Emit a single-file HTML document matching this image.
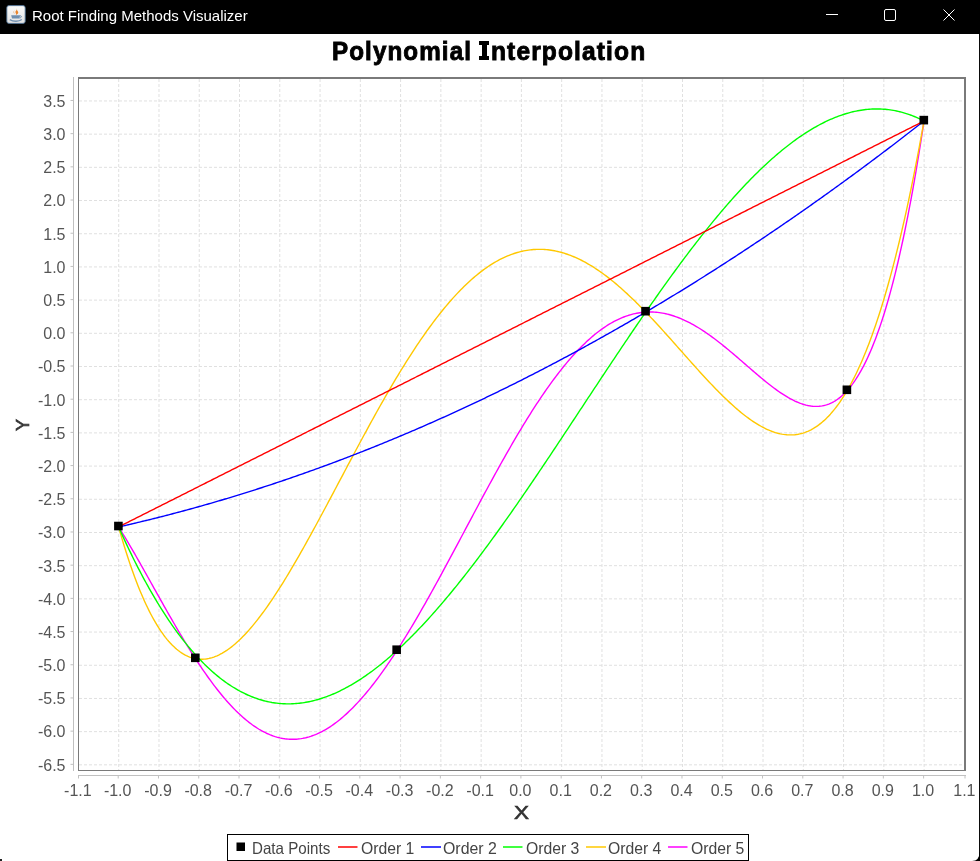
<!DOCTYPE html>
<html><head><meta charset="utf-8">
<style>
html,body{margin:0;padding:0;width:980px;height:861px;overflow:hidden;background:#fff;}
body{position:relative;font-family:"Liberation Sans",sans-serif;}
#txt{position:absolute;left:0;top:0;width:980px;height:861px;will-change:transform;}
#tb{position:absolute;left:0;top:0;width:980px;height:34px;background:#000;}
#tt{position:absolute;left:32px;top:8px;color:#fff;font-size:15px;line-height:15px;white-space:nowrap;}
#rb{position:absolute;left:979px;top:34px;width:1px;height:827px;background:#0a0a0a;}
.tw{position:absolute;top:38px;font-weight:bold;font-size:26.5px;line-height:26.5px;color:#000;white-space:nowrap;transform-origin:0 0;-webkit-text-stroke:0.9px #000;letter-spacing:1.2px;}
.yl{position:absolute;left:5px;width:60.5px;text-align:right;font-size:16px;line-height:16px;color:#555;white-space:nowrap;}
.xl{position:absolute;top:783px;width:60px;text-align:center;font-size:16px;line-height:16px;color:#555;white-space:nowrap;}
#xlab{position:absolute;left:514px;top:804px;font-size:18px;line-height:18px;color:#333;transform:scaleX(1.25);transform-origin:0 0;-webkit-text-stroke:0.6px #333;}
#ylab{position:absolute;left:14px;top:416px;width:18px;height:18px;text-align:center;font-size:18px;line-height:18px;color:#333;transform:rotate(-90deg);-webkit-text-stroke:0.6px #333;}
#legend{position:absolute;left:227px;top:834px;width:520px;height:25px;border:1px solid #000;}
.lt{position:absolute;top:840px;font-size:16.5px;line-height:16.5px;color:#444;white-space:nowrap;transform-origin:0 0;}
svg{position:absolute;left:0;top:0;}
</style></head><body>
<div id="tb"></div>
<div id="rb"></div>
<svg width="980" height="861" viewBox="0 0 980 861"><path d="M0 852 Q0 861 9 861 L0 861 Z" fill="#000" opacity="0"/><path d="M972 861 Q979.5 861 979.5 852 L980 852 L980 861 Z" fill="#000"/><rect x="0" y="859" width="2" height="2" fill="#222"/></svg>
<svg width="30" height="34" viewBox="0 0 30 34">
 <defs><linearGradient id="ig" x1="0" y1="0" x2="0" y2="1"><stop offset="0" stop-color="#fafafa"/><stop offset="1" stop-color="#e2e2e2"/></linearGradient></defs>
 <rect x="6.8" y="5.6" width="18.4" height="17.8" rx="2.2" fill="url(#ig)" stroke="#4d6f93" stroke-width="0.9"/>
 <path d="M16.2 8.2 C18.2 9.6 14.6 11 15.6 12.8 C16 13.6 16.3 14.2 15.8 15 C18.8 13.8 18.6 12 17.6 11 C17 10.2 17.2 9.2 16.2 8.2 Z" fill="#e8842c"/>
 <path d="M14.8 10.2 C13.2 11.4 14.2 13 14.8 14.2 C13.6 13 12.8 11.6 14.8 10.2 Z" fill="#e8842c"/>
 <path d="M11.2 15.3 L20.2 15.3 L19.4 18.4 L12 18.4 Z" fill="#6f8fb0"/>
 <path d="M20 15.8 C22.2 15.8 21.8 17.6 19.6 18" fill="none" stroke="#6f8fb0" stroke-width="1"/>
 <path d="M9.8 19.6 C13 21.8 19 21.8 21.8 19.6" fill="none" stroke="#6f8fb0" stroke-width="1.3"/>
</svg>
<svg width="980" height="34" viewBox="0 0 980 34">
 <line x1="826" y1="14.5" x2="838" y2="14.5" stroke="#fff" stroke-width="1"/>
 <rect x="884.5" y="9.5" width="11" height="11" rx="1.5" fill="none" stroke="#fff" stroke-width="1"/>
 <path d="M943.5 9.5 L954.5 20.5 M954.5 9.5 L943.5 20.5" stroke="#fff" stroke-width="1"/>
</svg>
<div id="txt">
<div id="tt">Root Finding Methods Visualizer</div>
<div class="tw" style="left:332px;transform:scaleX(0.913)">Polynomial</div>
<div class="tw" style="left:491px;transform:scaleX(0.927)">nterpolation</div>
<svg width="980" height="80" viewBox="0 0 980 80"><path d="M479 41 H489 V45 H487 V56 H489 V60 H479 V56 H482 V45 H479 Z" fill="#000"/></svg>
<svg width="980" height="861" viewBox="0 0 980 861">
<line x1="118.70" y1="79" x2="118.70" y2="770" stroke="#e0e0e0" stroke-width="1" stroke-dasharray="3 2"/>
<line x1="158.97" y1="79" x2="158.97" y2="770" stroke="#e0e0e0" stroke-width="1" stroke-dasharray="3 2"/>
<line x1="199.24" y1="79" x2="199.24" y2="770" stroke="#e0e0e0" stroke-width="1" stroke-dasharray="3 2"/>
<line x1="239.51" y1="79" x2="239.51" y2="770" stroke="#e0e0e0" stroke-width="1" stroke-dasharray="3 2"/>
<line x1="279.78" y1="79" x2="279.78" y2="770" stroke="#e0e0e0" stroke-width="1" stroke-dasharray="3 2"/>
<line x1="320.05" y1="79" x2="320.05" y2="770" stroke="#e0e0e0" stroke-width="1" stroke-dasharray="3 2"/>
<line x1="360.32" y1="79" x2="360.32" y2="770" stroke="#e0e0e0" stroke-width="1" stroke-dasharray="3 2"/>
<line x1="400.59" y1="79" x2="400.59" y2="770" stroke="#e0e0e0" stroke-width="1" stroke-dasharray="3 2"/>
<line x1="440.86" y1="79" x2="440.86" y2="770" stroke="#e0e0e0" stroke-width="1" stroke-dasharray="3 2"/>
<line x1="481.13" y1="79" x2="481.13" y2="770" stroke="#e0e0e0" stroke-width="1" stroke-dasharray="3 2"/>
<line x1="521.40" y1="79" x2="521.40" y2="770" stroke="#e0e0e0" stroke-width="1" stroke-dasharray="3 2"/>
<line x1="561.67" y1="79" x2="561.67" y2="770" stroke="#e0e0e0" stroke-width="1" stroke-dasharray="3 2"/>
<line x1="601.94" y1="79" x2="601.94" y2="770" stroke="#e0e0e0" stroke-width="1" stroke-dasharray="3 2"/>
<line x1="642.21" y1="79" x2="642.21" y2="770" stroke="#e0e0e0" stroke-width="1" stroke-dasharray="3 2"/>
<line x1="682.48" y1="79" x2="682.48" y2="770" stroke="#e0e0e0" stroke-width="1" stroke-dasharray="3 2"/>
<line x1="722.75" y1="79" x2="722.75" y2="770" stroke="#e0e0e0" stroke-width="1" stroke-dasharray="3 2"/>
<line x1="763.02" y1="79" x2="763.02" y2="770" stroke="#e0e0e0" stroke-width="1" stroke-dasharray="3 2"/>
<line x1="803.29" y1="79" x2="803.29" y2="770" stroke="#e0e0e0" stroke-width="1" stroke-dasharray="3 2"/>
<line x1="843.56" y1="79" x2="843.56" y2="770" stroke="#e0e0e0" stroke-width="1" stroke-dasharray="3 2"/>
<line x1="883.83" y1="79" x2="883.83" y2="770" stroke="#e0e0e0" stroke-width="1" stroke-dasharray="3 2"/>
<line x1="924.10" y1="79" x2="924.10" y2="770" stroke="#e0e0e0" stroke-width="1" stroke-dasharray="3 2"/>
<line x1="79" y1="764.84" x2="964" y2="764.84" stroke="#e0e0e0" stroke-width="1" stroke-dasharray="3 2"/>
<line x1="79" y1="731.64" x2="964" y2="731.64" stroke="#e0e0e0" stroke-width="1" stroke-dasharray="3 2"/>
<line x1="79" y1="698.44" x2="964" y2="698.44" stroke="#e0e0e0" stroke-width="1" stroke-dasharray="3 2"/>
<line x1="79" y1="665.25" x2="964" y2="665.25" stroke="#e0e0e0" stroke-width="1" stroke-dasharray="3 2"/>
<line x1="79" y1="632.06" x2="964" y2="632.06" stroke="#e0e0e0" stroke-width="1" stroke-dasharray="3 2"/>
<line x1="79" y1="598.86" x2="964" y2="598.86" stroke="#e0e0e0" stroke-width="1" stroke-dasharray="3 2"/>
<line x1="79" y1="565.66" x2="964" y2="565.66" stroke="#e0e0e0" stroke-width="1" stroke-dasharray="3 2"/>
<line x1="79" y1="532.47" x2="964" y2="532.47" stroke="#e0e0e0" stroke-width="1" stroke-dasharray="3 2"/>
<line x1="79" y1="499.27" x2="964" y2="499.27" stroke="#e0e0e0" stroke-width="1" stroke-dasharray="3 2"/>
<line x1="79" y1="466.08" x2="964" y2="466.08" stroke="#e0e0e0" stroke-width="1" stroke-dasharray="3 2"/>
<line x1="79" y1="432.88" x2="964" y2="432.88" stroke="#e0e0e0" stroke-width="1" stroke-dasharray="3 2"/>
<line x1="79" y1="399.69" x2="964" y2="399.69" stroke="#e0e0e0" stroke-width="1" stroke-dasharray="3 2"/>
<line x1="79" y1="366.50" x2="964" y2="366.50" stroke="#e0e0e0" stroke-width="1" stroke-dasharray="3 2"/>
<line x1="79" y1="333.30" x2="964" y2="333.30" stroke="#e0e0e0" stroke-width="1" stroke-dasharray="3 2"/>
<line x1="79" y1="300.11" x2="964" y2="300.11" stroke="#e0e0e0" stroke-width="1" stroke-dasharray="3 2"/>
<line x1="79" y1="266.91" x2="964" y2="266.91" stroke="#e0e0e0" stroke-width="1" stroke-dasharray="3 2"/>
<line x1="79" y1="233.72" x2="964" y2="233.72" stroke="#e0e0e0" stroke-width="1" stroke-dasharray="3 2"/>
<line x1="79" y1="200.52" x2="964" y2="200.52" stroke="#e0e0e0" stroke-width="1" stroke-dasharray="3 2"/>
<line x1="79" y1="167.33" x2="964" y2="167.33" stroke="#e0e0e0" stroke-width="1" stroke-dasharray="3 2"/>
<line x1="79" y1="134.13" x2="964" y2="134.13" stroke="#e0e0e0" stroke-width="1" stroke-dasharray="3 2"/>
<line x1="79" y1="100.94" x2="964" y2="100.94" stroke="#e0e0e0" stroke-width="1" stroke-dasharray="3 2"/>
<path d="M118.20,526.33 L119.81,528.91 L121.43,531.53 L123.04,534.17 L124.66,536.85 L126.27,539.54 L127.88,542.26 L129.50,545.00 L131.11,547.77 L132.73,550.55 L134.34,553.34 L135.95,556.15 L137.57,558.98 L139.18,561.82 L140.80,564.67 L142.41,567.53 L144.02,570.39 L145.64,573.27 L147.25,576.15 L148.87,579.03 L150.48,581.92 L152.09,584.80 L153.71,587.69 L155.32,590.58 L156.94,593.46 L158.55,596.34 L160.16,599.22 L161.78,602.08 L163.39,604.94 L165.01,607.80 L166.62,610.64 L168.23,613.47 L169.85,616.29 L171.46,619.10 L173.08,621.89 L174.69,624.67 L176.31,627.43 L177.92,630.18 L179.53,632.91 L181.15,635.61 L182.76,638.30 L184.38,640.97 L185.99,643.62 L187.60,646.24 L189.22,648.84 L190.83,651.41 L192.45,653.96 L194.06,656.48 L195.67,658.98 L197.29,661.45 L198.90,663.89 L200.52,666.30 L202.13,668.68 L203.74,671.03 L205.36,673.35 L206.97,675.64 L208.59,677.89 L210.20,680.11 L211.81,682.30 L213.43,684.45 L215.04,686.57 L216.66,688.65 L218.27,690.69 L219.88,692.70 L221.50,694.67 L223.11,696.60 L224.73,698.50 L226.34,700.35 L227.95,702.17 L229.57,703.94 L231.18,705.68 L232.80,707.37 L234.41,709.02 L236.02,710.63 L237.64,712.20 L239.25,713.73 L240.87,715.21 L242.48,716.65 L244.09,718.05 L245.71,719.41 L247.32,720.72 L248.94,721.98 L250.55,723.20 L252.16,724.38 L253.78,725.51 L255.39,726.59 L257.01,727.63 L258.62,728.63 L260.23,729.58 L261.85,730.48 L263.46,731.33 L265.08,732.14 L266.69,732.91 L268.30,733.62 L269.92,734.29 L271.53,734.91 L273.15,735.49 L274.76,736.02 L276.37,736.50 L277.99,736.93 L279.60,737.32 L281.22,737.66 L282.83,737.95 L284.44,738.20 L286.06,738.39 L287.67,738.55 L289.29,738.65 L290.90,738.70 L292.52,738.71 L294.13,738.68 L295.74,738.59 L297.36,738.46 L298.97,738.28 L300.59,738.05 L302.20,737.78 L303.81,737.46 L305.43,737.10 L307.04,736.69 L308.66,736.23 L310.27,735.73 L311.88,735.18 L313.50,734.59 L315.11,733.95 L316.73,733.26 L318.34,732.53 L319.95,731.76 L321.57,730.94 L323.18,730.08 L324.80,729.17 L326.41,728.22 L328.02,727.23 L329.64,726.19 L331.25,725.11 L332.87,723.99 L334.48,722.83 L336.09,721.62 L337.71,720.37 L339.32,719.08 L340.94,717.75 L342.55,716.38 L344.16,714.97 L345.78,713.52 L347.39,712.03 L349.01,710.50 L350.62,708.93 L352.23,707.33 L353.85,705.68 L355.46,704.00 L357.08,702.28 L358.69,700.52 L360.30,698.73 L361.92,696.90 L363.53,695.04 L365.15,693.14 L366.76,691.20 L368.37,689.24 L369.99,687.23 L371.60,685.20 L373.22,683.13 L374.83,681.03 L376.44,678.90 L378.06,676.74 L379.67,674.54 L381.29,672.32 L382.90,670.06 L384.51,667.78 L386.13,665.46 L387.74,663.12 L389.36,660.75 L390.97,658.36 L392.58,655.93 L394.20,653.48 L395.81,651.01 L397.43,648.51 L399.04,645.98 L400.65,643.43 L402.27,640.86 L403.88,638.27 L405.50,635.65 L407.11,633.01 L408.73,630.35 L410.34,627.66 L411.95,624.96 L413.57,622.24 L415.18,619.50 L416.80,616.74 L418.41,613.96 L420.02,611.17 L421.64,608.36 L423.25,605.53 L424.87,602.69 L426.48,599.83 L428.09,596.96 L429.71,594.07 L431.32,591.17 L432.94,588.26 L434.55,585.34 L436.16,582.40 L437.78,579.46 L439.39,576.50 L441.01,573.53 L442.62,570.56 L444.23,567.58 L445.85,564.59 L447.46,561.59 L449.08,558.59 L450.69,555.58 L452.30,552.56 L453.92,549.54 L455.53,546.52 L457.15,543.49 L458.76,540.46 L460.37,537.43 L461.99,534.40 L463.60,531.36 L465.22,528.33 L466.83,525.29 L468.44,522.26 L470.06,519.23 L471.67,516.20 L473.29,513.17 L474.90,510.14 L476.51,507.12 L478.13,504.11 L479.74,501.10 L481.36,498.09 L482.97,495.09 L484.58,492.10 L486.20,489.11 L487.81,486.14 L489.43,483.17 L491.04,480.21 L492.65,477.26 L494.27,474.32 L495.88,471.40 L497.50,468.48 L499.11,465.58 L500.72,462.68 L502.34,459.81 L503.95,456.94 L505.57,454.09 L507.18,451.26 L508.79,448.44 L510.41,445.63 L512.02,442.85 L513.64,440.08 L515.25,437.33 L516.86,434.59 L518.48,431.88 L520.09,429.18 L521.71,426.50 L523.32,423.85 L524.94,421.21 L526.55,418.60 L528.16,416.01 L529.78,413.44 L531.39,410.89 L533.01,408.37 L534.62,405.87 L536.23,403.39 L537.85,400.94 L539.46,398.52 L541.08,396.12 L542.69,393.74 L544.30,391.40 L545.92,389.08 L547.53,386.78 L549.15,384.52 L550.76,382.28 L552.37,380.07 L553.99,377.90 L555.60,375.75 L557.22,373.63 L558.83,371.54 L560.44,369.48 L562.06,367.45 L563.67,365.46 L565.29,363.49 L566.90,361.56 L568.51,359.66 L570.13,357.80 L571.74,355.96 L573.36,354.16 L574.97,352.40 L576.58,350.67 L578.20,348.97 L579.81,347.31 L581.43,345.68 L583.04,344.09 L584.65,342.53 L586.27,341.01 L587.88,339.53 L589.50,338.08 L591.11,336.67 L592.72,335.30 L594.34,333.96 L595.95,332.66 L597.57,331.39 L599.18,330.17 L600.79,328.98 L602.41,327.83 L604.02,326.72 L605.64,325.65 L607.25,324.61 L608.86,323.62 L610.48,322.66 L612.09,321.74 L613.71,320.86 L615.32,320.02 L616.93,319.21 L618.55,318.45 L620.16,317.73 L621.78,317.04 L623.39,316.40 L625.00,315.79 L626.62,315.22 L628.23,314.69 L629.85,314.20 L631.46,313.75 L633.07,313.34 L634.69,312.97 L636.30,312.64 L637.92,312.34 L639.53,312.09 L641.15,311.87 L642.76,311.69 L644.37,311.55 L645.99,311.45 L647.60,311.39 L649.22,311.36 L650.83,311.38 L652.44,311.43 L654.06,311.52 L655.67,311.64 L657.29,311.80 L658.90,312.00 L660.51,312.24 L662.13,312.51 L663.74,312.82 L665.36,313.16 L666.97,313.54 L668.58,313.95 L670.20,314.40 L671.81,314.88 L673.43,315.40 L675.04,315.95 L676.65,316.53 L678.27,317.15 L679.88,317.80 L681.50,318.47 L683.11,319.19 L684.72,319.93 L686.34,320.70 L687.95,321.50 L689.57,322.34 L691.18,323.20 L692.79,324.08 L694.41,325.00 L696.02,325.95 L697.64,326.92 L699.25,327.91 L700.86,328.93 L702.48,329.98 L704.09,331.05 L705.71,332.14 L707.32,333.26 L708.93,334.40 L710.55,335.56 L712.16,336.74 L713.78,337.93 L715.39,339.15 L717.00,340.39 L718.62,341.64 L720.23,342.91 L721.85,344.19 L723.46,345.49 L725.07,346.81 L726.69,348.13 L728.30,349.47 L729.92,350.82 L731.53,352.18 L733.14,353.54 L734.76,354.92 L736.37,356.30 L737.99,357.69 L739.60,359.08 L741.21,360.48 L742.83,361.88 L744.44,363.28 L746.06,364.68 L747.67,366.08 L749.28,367.48 L750.90,368.87 L752.51,370.27 L754.13,371.65 L755.74,373.03 L757.36,374.40 L758.97,375.76 L760.58,377.11 L762.20,378.45 L763.81,379.77 L765.43,381.08 L767.04,382.38 L768.65,383.65 L770.27,384.91 L771.88,386.14 L773.50,387.36 L775.11,388.55 L776.72,389.71 L778.34,390.85 L779.95,391.96 L781.57,393.04 L783.18,394.09 L784.79,395.11 L786.41,396.09 L788.02,397.04 L789.64,397.94 L791.25,398.81 L792.86,399.64 L794.48,400.42 L796.09,401.15 L797.71,401.84 L799.32,402.49 L800.93,403.08 L802.55,403.61 L804.16,404.10 L805.78,404.52 L807.39,404.89 L809.00,405.20 L810.62,405.45 L812.23,405.63 L813.85,405.74 L815.46,405.79 L817.07,405.77 L818.69,405.67 L820.30,405.50 L821.92,405.25 L823.53,404.92 L825.14,404.51 L826.76,404.02 L828.37,403.44 L829.99,402.77 L831.60,402.01 L833.21,401.16 L834.83,400.21 L836.44,399.17 L838.06,398.02 L839.67,396.78 L841.28,395.42 L842.90,393.96 L844.51,392.39 L846.13,390.71 L847.74,388.91 L849.35,387.00 L850.97,384.96 L852.58,382.80 L854.20,380.51 L855.81,378.10 L857.42,375.55 L859.04,372.87 L860.65,370.05 L862.27,367.10 L863.88,364.00 L865.49,360.75 L867.11,357.36 L868.72,353.81 L870.34,350.12 L871.95,346.26 L873.57,342.24 L875.18,338.06 L876.79,333.72 L878.41,329.20 L880.02,324.51 L881.64,319.65 L883.25,314.60 L884.86,309.38 L886.48,303.97 L888.09,298.37 L889.71,292.58 L891.32,286.59 L892.93,280.40 L894.55,274.02 L896.16,267.42 L897.78,260.62 L899.39,253.60 L901.00,246.37 L902.62,238.92 L904.23,231.25 L905.85,223.35 L907.46,215.22 L909.07,206.85 L910.69,198.25 L912.30,189.41 L913.92,180.32 L915.53,170.98 L917.14,161.39 L918.76,151.54 L920.37,141.43 L921.99,131.06 L923.60,120.42" fill="none" stroke="#ff00ff" stroke-width="1.4" stroke-linejoin="round" transform="translate(0.4,0.6)"/>
<path d="M118.20,526.33 L119.81,532.00 L121.43,537.52 L123.04,542.90 L124.66,548.14 L126.27,553.23 L127.88,558.18 L129.50,563.00 L131.11,567.68 L132.73,572.22 L134.34,576.63 L135.95,580.90 L137.57,585.04 L139.18,589.06 L140.80,592.94 L142.41,596.70 L144.02,600.33 L145.64,603.84 L147.25,607.22 L148.87,610.48 L150.48,613.62 L152.09,616.65 L153.71,619.55 L155.32,622.34 L156.94,625.02 L158.55,627.58 L160.16,630.03 L161.78,632.37 L163.39,634.60 L165.01,636.72 L166.62,638.73 L168.23,640.64 L169.85,642.44 L171.46,644.15 L173.08,645.75 L174.69,647.25 L176.31,648.65 L177.92,649.95 L179.53,651.16 L181.15,652.27 L182.76,653.29 L184.38,654.22 L185.99,655.05 L187.60,655.80 L189.22,656.45 L190.83,657.02 L192.45,657.50 L194.06,657.90 L195.67,658.21 L197.29,658.44 L198.90,658.59 L200.52,658.66 L202.13,658.65 L203.74,658.56 L205.36,658.39 L206.97,658.15 L208.59,657.83 L210.20,657.45 L211.81,656.98 L213.43,656.45 L215.04,655.85 L216.66,655.18 L218.27,654.44 L219.88,653.64 L221.50,652.77 L223.11,651.83 L224.73,650.83 L226.34,649.77 L227.95,648.65 L229.57,647.47 L231.18,646.23 L232.80,644.94 L234.41,643.58 L236.02,642.17 L237.64,640.71 L239.25,639.19 L240.87,637.62 L242.48,636.00 L244.09,634.33 L245.71,632.61 L247.32,630.84 L248.94,629.02 L250.55,627.16 L252.16,625.25 L253.78,623.30 L255.39,621.30 L257.01,619.26 L258.62,617.18 L260.23,615.06 L261.85,612.90 L263.46,610.71 L265.08,608.47 L266.69,606.20 L268.30,603.89 L269.92,601.54 L271.53,599.17 L273.15,596.76 L274.76,594.32 L276.37,591.84 L277.99,589.34 L279.60,586.81 L281.22,584.24 L282.83,581.66 L284.44,579.04 L286.06,576.40 L287.67,573.73 L289.29,571.04 L290.90,568.33 L292.52,565.59 L294.13,562.83 L295.74,560.05 L297.36,557.26 L298.97,554.44 L300.59,551.60 L302.20,548.75 L303.81,545.88 L305.43,542.99 L307.04,540.09 L308.66,537.18 L310.27,534.25 L311.88,531.30 L313.50,528.35 L315.11,525.39 L316.73,522.41 L318.34,519.42 L319.95,516.43 L321.57,513.43 L323.18,510.42 L324.80,507.40 L326.41,504.37 L328.02,501.35 L329.64,498.31 L331.25,495.27 L332.87,492.23 L334.48,489.19 L336.09,486.14 L337.71,483.09 L339.32,480.05 L340.94,477.00 L342.55,473.95 L344.16,470.90 L345.78,467.86 L347.39,464.82 L349.01,461.78 L350.62,458.74 L352.23,455.71 L353.85,452.69 L355.46,449.67 L357.08,446.66 L358.69,443.65 L360.30,440.65 L361.92,437.66 L363.53,434.67 L365.15,431.70 L366.76,428.74 L368.37,425.78 L369.99,422.84 L371.60,419.91 L373.22,416.99 L374.83,414.08 L376.44,411.18 L378.06,408.30 L379.67,405.43 L381.29,402.58 L382.90,399.74 L384.51,396.92 L386.13,394.11 L387.74,391.32 L389.36,388.55 L390.97,385.79 L392.58,383.05 L394.20,380.33 L395.81,377.63 L397.43,374.94 L399.04,372.28 L400.65,369.64 L402.27,367.01 L403.88,364.41 L405.50,361.83 L407.11,359.27 L408.73,356.73 L410.34,354.22 L411.95,351.72 L413.57,349.25 L415.18,346.81 L416.80,344.38 L418.41,341.99 L420.02,339.61 L421.64,337.26 L423.25,334.94 L424.87,332.64 L426.48,330.37 L428.09,328.13 L429.71,325.91 L431.32,323.72 L432.94,321.55 L434.55,319.41 L436.16,317.30 L437.78,315.22 L439.39,313.17 L441.01,311.15 L442.62,309.15 L444.23,307.18 L445.85,305.25 L447.46,303.34 L449.08,301.46 L450.69,299.61 L452.30,297.80 L453.92,296.01 L455.53,294.26 L457.15,292.53 L458.76,290.84 L460.37,289.18 L461.99,287.55 L463.60,285.95 L465.22,284.38 L466.83,282.85 L468.44,281.35 L470.06,279.88 L471.67,278.44 L473.29,277.04 L474.90,275.67 L476.51,274.33 L478.13,273.02 L479.74,271.75 L481.36,270.51 L482.97,269.31 L484.58,268.14 L486.20,267.00 L487.81,265.90 L489.43,264.83 L491.04,263.80 L492.65,262.80 L494.27,261.83 L495.88,260.90 L497.50,260.00 L499.11,259.13 L500.72,258.31 L502.34,257.51 L503.95,256.75 L505.57,256.02 L507.18,255.33 L508.79,254.68 L510.41,254.05 L512.02,253.47 L513.64,252.91 L515.25,252.40 L516.86,251.91 L518.48,251.46 L520.09,251.05 L521.71,250.67 L523.32,250.32 L524.94,250.01 L526.55,249.73 L528.16,249.49 L529.78,249.28 L531.39,249.10 L533.01,248.96 L534.62,248.85 L536.23,248.78 L537.85,248.74 L539.46,248.74 L541.08,248.76 L542.69,248.82 L544.30,248.92 L545.92,249.05 L547.53,249.21 L549.15,249.40 L550.76,249.63 L552.37,249.88 L553.99,250.18 L555.60,250.50 L557.22,250.85 L558.83,251.24 L560.44,251.66 L562.06,252.11 L563.67,252.59 L565.29,253.11 L566.90,253.65 L568.51,254.22 L570.13,254.83 L571.74,255.46 L573.36,256.13 L574.97,256.82 L576.58,257.55 L578.20,258.30 L579.81,259.09 L581.43,259.90 L583.04,260.74 L584.65,261.61 L586.27,262.50 L587.88,263.43 L589.50,264.38 L591.11,265.36 L592.72,266.36 L594.34,267.39 L595.95,268.45 L597.57,269.54 L599.18,270.64 L600.79,271.78 L602.41,272.94 L604.02,274.12 L605.64,275.33 L607.25,276.56 L608.86,277.81 L610.48,279.09 L612.09,280.39 L613.71,281.71 L615.32,283.06 L616.93,284.42 L618.55,285.81 L620.16,287.22 L621.78,288.64 L623.39,290.09 L625.00,291.55 L626.62,293.04 L628.23,294.54 L629.85,296.06 L631.46,297.60 L633.07,299.16 L634.69,300.73 L636.30,302.32 L637.92,303.92 L639.53,305.54 L641.15,307.18 L642.76,308.82 L644.37,310.49 L645.99,312.16 L647.60,313.85 L649.22,315.55 L650.83,317.26 L652.44,318.98 L654.06,320.71 L655.67,322.46 L657.29,324.21 L658.90,325.97 L660.51,327.74 L662.13,329.51 L663.74,331.30 L665.36,333.09 L666.97,334.88 L668.58,336.68 L670.20,338.49 L671.81,340.30 L673.43,342.11 L675.04,343.93 L676.65,345.75 L678.27,347.57 L679.88,349.39 L681.50,351.21 L683.11,353.03 L684.72,354.85 L686.34,356.67 L687.95,358.49 L689.57,360.30 L691.18,362.11 L692.79,363.91 L694.41,365.71 L696.02,367.51 L697.64,369.29 L699.25,371.07 L700.86,372.85 L702.48,374.61 L704.09,376.36 L705.71,378.11 L707.32,379.84 L708.93,381.56 L710.55,383.27 L712.16,384.97 L713.78,386.65 L715.39,388.32 L717.00,389.97 L718.62,391.60 L720.23,393.22 L721.85,394.82 L723.46,396.40 L725.07,397.97 L726.69,399.51 L728.30,401.03 L729.92,402.53 L731.53,404.00 L733.14,405.45 L734.76,406.88 L736.37,408.28 L737.99,409.66 L739.60,411.01 L741.21,412.33 L742.83,413.62 L744.44,414.88 L746.06,416.11 L747.67,417.31 L749.28,418.48 L750.90,419.62 L752.51,420.71 L754.13,421.78 L755.74,422.81 L757.36,423.80 L758.97,424.75 L760.58,425.66 L762.20,426.54 L763.81,427.37 L765.43,428.16 L767.04,428.91 L768.65,429.62 L770.27,430.27 L771.88,430.89 L773.50,431.45 L775.11,431.97 L776.72,432.44 L778.34,432.86 L779.95,433.23 L781.57,433.55 L783.18,433.82 L784.79,434.03 L786.41,434.18 L788.02,434.28 L789.64,434.32 L791.25,434.31 L792.86,434.23 L794.48,434.09 L796.09,433.90 L797.71,433.64 L799.32,433.31 L800.93,432.92 L802.55,432.47 L804.16,431.95 L805.78,431.36 L807.39,430.70 L809.00,429.97 L810.62,429.17 L812.23,428.30 L813.85,427.35 L815.46,426.33 L817.07,425.23 L818.69,424.05 L820.30,422.80 L821.92,421.46 L823.53,420.05 L825.14,418.55 L826.76,416.97 L828.37,415.30 L829.99,413.55 L831.60,411.71 L833.21,409.79 L834.83,407.77 L836.44,405.67 L838.06,403.47 L839.67,401.18 L841.28,398.79 L842.90,396.31 L844.51,393.73 L846.13,391.05 L847.74,388.28 L849.35,385.40 L850.97,382.42 L852.58,379.34 L854.20,376.15 L855.81,372.86 L857.42,369.46 L859.04,365.95 L860.65,362.33 L862.27,358.60 L863.88,354.75 L865.49,350.80 L867.11,346.72 L868.72,342.53 L870.34,338.22 L871.95,333.80 L873.57,329.25 L875.18,324.58 L876.79,319.78 L878.41,314.86 L880.02,309.82 L881.64,304.64 L883.25,299.34 L884.86,293.90 L886.48,288.34 L888.09,282.64 L889.71,276.80 L891.32,270.83 L892.93,264.72 L894.55,258.47 L896.16,252.08 L897.78,245.55 L899.39,238.87 L901.00,232.05 L902.62,225.08 L904.23,217.96 L905.85,210.69 L907.46,203.27 L909.07,195.70 L910.69,187.97 L912.30,180.09 L913.92,172.05 L915.53,163.85 L917.14,155.49 L918.76,146.97 L920.37,138.29 L921.99,129.44 L923.60,120.42" fill="none" stroke="#ffc800" stroke-width="1.4" stroke-linejoin="round" transform="translate(0.4,0.6)"/>
<path d="M118.20,526.33 L119.81,529.94 L121.43,533.52 L123.04,537.05 L124.66,540.54 L126.27,543.99 L127.88,547.39 L129.50,550.76 L131.11,554.08 L132.73,557.36 L134.34,560.60 L135.95,563.80 L137.57,566.96 L139.18,570.08 L140.80,573.16 L142.41,576.20 L144.02,579.20 L145.64,582.16 L147.25,585.08 L148.87,587.96 L150.48,590.79 L152.09,593.59 L153.71,596.36 L155.32,599.08 L156.94,601.76 L158.55,604.40 L160.16,607.01 L161.78,609.58 L163.39,612.10 L165.01,614.60 L166.62,617.05 L168.23,619.46 L169.85,621.84 L171.46,624.18 L173.08,626.48 L174.69,628.74 L176.31,630.97 L177.92,633.16 L179.53,635.31 L181.15,637.43 L182.76,639.51 L184.38,641.55 L185.99,643.56 L187.60,645.53 L189.22,647.46 L190.83,649.36 L192.45,651.23 L194.06,653.05 L195.67,654.85 L197.29,656.60 L198.90,658.33 L200.52,660.01 L202.13,661.66 L203.74,663.28 L205.36,664.87 L206.97,666.41 L208.59,667.93 L210.20,669.41 L211.81,670.85 L213.43,672.27 L215.04,673.65 L216.66,674.99 L218.27,676.30 L219.88,677.58 L221.50,678.83 L223.11,680.04 L224.73,681.22 L226.34,682.37 L227.95,683.48 L229.57,684.57 L231.18,685.62 L232.80,686.64 L234.41,687.62 L236.02,688.58 L237.64,689.50 L239.25,690.39 L240.87,691.25 L242.48,692.08 L244.09,692.88 L245.71,693.65 L247.32,694.39 L248.94,695.09 L250.55,695.77 L252.16,696.41 L253.78,697.03 L255.39,697.61 L257.01,698.17 L258.62,698.70 L260.23,699.19 L261.85,699.66 L263.46,700.10 L265.08,700.51 L266.69,700.89 L268.30,701.24 L269.92,701.56 L271.53,701.86 L273.15,702.12 L274.76,702.36 L276.37,702.57 L277.99,702.75 L279.60,702.90 L281.22,703.03 L282.83,703.13 L284.44,703.20 L286.06,703.25 L287.67,703.26 L289.29,703.25 L290.90,703.22 L292.52,703.15 L294.13,703.07 L295.74,702.95 L297.36,702.81 L298.97,702.64 L300.59,702.45 L302.20,702.23 L303.81,701.98 L305.43,701.71 L307.04,701.42 L308.66,701.10 L310.27,700.75 L311.88,700.38 L313.50,699.99 L315.11,699.57 L316.73,699.12 L318.34,698.66 L319.95,698.16 L321.57,697.65 L323.18,697.11 L324.80,696.54 L326.41,695.96 L328.02,695.35 L329.64,694.71 L331.25,694.06 L332.87,693.38 L334.48,692.68 L336.09,691.95 L337.71,691.20 L339.32,690.44 L340.94,689.64 L342.55,688.83 L344.16,687.99 L345.78,687.14 L347.39,686.26 L349.01,685.36 L350.62,684.44 L352.23,683.50 L353.85,682.53 L355.46,681.55 L357.08,680.54 L358.69,679.52 L360.30,678.47 L361.92,677.40 L363.53,676.32 L365.15,675.21 L366.76,674.09 L368.37,672.94 L369.99,671.78 L371.60,670.59 L373.22,669.39 L374.83,668.16 L376.44,666.92 L378.06,665.66 L379.67,664.38 L381.29,663.09 L382.90,661.77 L384.51,660.43 L386.13,659.08 L387.74,657.71 L389.36,656.33 L390.97,654.92 L392.58,653.50 L394.20,652.06 L395.81,650.60 L397.43,649.13 L399.04,647.63 L400.65,646.13 L402.27,644.60 L403.88,643.06 L405.50,641.50 L407.11,639.93 L408.73,638.34 L410.34,636.74 L411.95,635.12 L413.57,633.48 L415.18,631.83 L416.80,630.16 L418.41,628.48 L420.02,626.78 L421.64,625.07 L423.25,623.34 L424.87,621.60 L426.48,619.85 L428.09,618.08 L429.71,616.30 L431.32,614.50 L432.94,612.69 L434.55,610.86 L436.16,609.03 L437.78,607.17 L439.39,605.31 L441.01,603.43 L442.62,601.54 L444.23,599.64 L445.85,597.72 L447.46,595.79 L449.08,593.85 L450.69,591.90 L452.30,589.94 L453.92,587.96 L455.53,585.97 L457.15,583.97 L458.76,581.96 L460.37,579.94 L461.99,577.90 L463.60,575.86 L465.22,573.80 L466.83,571.74 L468.44,569.66 L470.06,567.57 L471.67,565.48 L473.29,563.37 L474.90,561.25 L476.51,559.13 L478.13,556.99 L479.74,554.84 L481.36,552.69 L482.97,550.52 L484.58,548.35 L486.20,546.17 L487.81,543.97 L489.43,541.77 L491.04,539.57 L492.65,537.35 L494.27,535.12 L495.88,532.89 L497.50,530.65 L499.11,528.40 L500.72,526.15 L502.34,523.88 L503.95,521.61 L505.57,519.33 L507.18,517.05 L508.79,514.76 L510.41,512.46 L512.02,510.15 L513.64,507.84 L515.25,505.52 L516.86,503.20 L518.48,500.87 L520.09,498.53 L521.71,496.19 L523.32,493.85 L524.94,491.49 L526.55,489.14 L528.16,486.77 L529.78,484.41 L531.39,482.04 L533.01,479.66 L534.62,477.28 L536.23,474.89 L537.85,472.50 L539.46,470.11 L541.08,467.71 L542.69,465.31 L544.30,462.90 L545.92,460.50 L547.53,458.08 L549.15,455.67 L550.76,453.25 L552.37,450.83 L553.99,448.41 L555.60,445.98 L557.22,443.55 L558.83,441.12 L560.44,438.69 L562.06,436.25 L563.67,433.82 L565.29,431.38 L566.90,428.94 L568.51,426.50 L570.13,424.05 L571.74,421.61 L573.36,419.16 L574.97,416.72 L576.58,414.27 L578.20,411.83 L579.81,409.38 L581.43,406.93 L583.04,404.48 L584.65,402.04 L586.27,399.59 L587.88,397.14 L589.50,394.70 L591.11,392.25 L592.72,389.81 L594.34,387.36 L595.95,384.92 L597.57,382.48 L599.18,380.04 L600.79,377.60 L602.41,375.16 L604.02,372.73 L605.64,370.30 L607.25,367.87 L608.86,365.44 L610.48,363.01 L612.09,360.59 L613.71,358.17 L615.32,355.75 L616.93,353.34 L618.55,350.92 L620.16,348.52 L621.78,346.11 L623.39,343.71 L625.00,341.31 L626.62,338.92 L628.23,336.53 L629.85,334.14 L631.46,331.76 L633.07,329.39 L634.69,327.01 L636.30,324.65 L637.92,322.29 L639.53,319.93 L641.15,317.58 L642.76,315.23 L644.37,312.89 L645.99,310.55 L647.60,308.23 L649.22,305.90 L650.83,303.58 L652.44,301.27 L654.06,298.97 L655.67,296.67 L657.29,294.38 L658.90,292.10 L660.51,289.82 L662.13,287.55 L663.74,285.29 L665.36,283.03 L666.97,280.78 L668.58,278.54 L670.20,276.31 L671.81,274.08 L673.43,271.87 L675.04,269.66 L676.65,267.46 L678.27,265.27 L679.88,263.09 L681.50,260.92 L683.11,258.75 L684.72,256.60 L686.34,254.45 L687.95,252.32 L689.57,250.19 L691.18,248.07 L692.79,245.97 L694.41,243.87 L696.02,241.78 L697.64,239.71 L699.25,237.64 L700.86,235.59 L702.48,233.54 L704.09,231.51 L705.71,229.49 L707.32,227.48 L708.93,225.48 L710.55,223.49 L712.16,221.52 L713.78,219.55 L715.39,217.60 L717.00,215.66 L718.62,213.74 L720.23,211.82 L721.85,209.92 L723.46,208.03 L725.07,206.15 L726.69,204.29 L728.30,202.44 L729.92,200.60 L731.53,198.78 L733.14,196.97 L734.76,195.17 L736.37,193.39 L737.99,191.62 L739.60,189.87 L741.21,188.13 L742.83,186.40 L744.44,184.69 L746.06,183.00 L747.67,181.31 L749.28,179.65 L750.90,178.00 L752.51,176.36 L754.13,174.74 L755.74,173.14 L757.36,171.55 L758.97,169.98 L760.58,168.42 L762.20,166.89 L763.81,165.36 L765.43,163.86 L767.04,162.37 L768.65,160.89 L770.27,159.44 L771.88,158.00 L773.50,156.58 L775.11,155.17 L776.72,153.79 L778.34,152.42 L779.95,151.07 L781.57,149.73 L783.18,148.42 L784.79,147.12 L786.41,145.85 L788.02,144.59 L789.64,143.35 L791.25,142.13 L792.86,140.92 L794.48,139.74 L796.09,138.58 L797.71,137.43 L799.32,136.31 L800.93,135.20 L802.55,134.12 L804.16,133.05 L805.78,132.01 L807.39,130.98 L809.00,129.98 L810.62,129.00 L812.23,128.04 L813.85,127.10 L815.46,126.18 L817.07,125.28 L818.69,124.40 L820.30,123.55 L821.92,122.71 L823.53,121.90 L825.14,121.11 L826.76,120.34 L828.37,119.60 L829.99,118.87 L831.60,118.17 L833.21,117.50 L834.83,116.84 L836.44,116.21 L838.06,115.60 L839.67,115.02 L841.28,114.45 L842.90,113.92 L844.51,113.40 L846.13,112.91 L847.74,112.45 L849.35,112.00 L850.97,111.59 L852.58,111.19 L854.20,110.83 L855.81,110.48 L857.42,110.16 L859.04,109.87 L860.65,109.60 L862.27,109.36 L863.88,109.14 L865.49,108.95 L867.11,108.79 L868.72,108.65 L870.34,108.53 L871.95,108.45 L873.57,108.38 L875.18,108.35 L876.79,108.34 L878.41,108.36 L880.02,108.41 L881.64,108.48 L883.25,108.58 L884.86,108.71 L886.48,108.87 L888.09,109.05 L889.71,109.26 L891.32,109.50 L892.93,109.77 L894.55,110.07 L896.16,110.39 L897.78,110.75 L899.39,111.13 L901.00,111.54 L902.62,111.98 L904.23,112.45 L905.85,112.95 L907.46,113.48 L909.07,114.04 L910.69,114.62 L912.30,115.24 L913.92,115.89 L915.53,116.57 L917.14,117.28 L918.76,118.02 L920.37,118.79 L921.99,119.59 L923.60,120.42" fill="none" stroke="#00ff00" stroke-width="1.4" stroke-linejoin="round" transform="translate(0.4,0.6)"/>
<path d="M118.20,526.33 L119.81,525.96 L121.43,525.60 L123.04,525.23 L124.66,524.86 L126.27,524.49 L127.88,524.12 L129.50,523.74 L131.11,523.37 L132.73,522.99 L134.34,522.61 L135.95,522.23 L137.57,521.84 L139.18,521.46 L140.80,521.07 L142.41,520.68 L144.02,520.29 L145.64,519.90 L147.25,519.50 L148.87,519.10 L150.48,518.71 L152.09,518.31 L153.71,517.90 L155.32,517.50 L156.94,517.10 L158.55,516.69 L160.16,516.28 L161.78,515.87 L163.39,515.46 L165.01,515.04 L166.62,514.63 L168.23,514.21 L169.85,513.79 L171.46,513.37 L173.08,512.94 L174.69,512.52 L176.31,512.09 L177.92,511.66 L179.53,511.23 L181.15,510.80 L182.76,510.36 L184.38,509.93 L185.99,509.49 L187.60,509.05 L189.22,508.61 L190.83,508.17 L192.45,507.72 L194.06,507.27 L195.67,506.83 L197.29,506.37 L198.90,505.92 L200.52,505.47 L202.13,505.01 L203.74,504.55 L205.36,504.09 L206.97,503.63 L208.59,503.17 L210.20,502.71 L211.81,502.24 L213.43,501.77 L215.04,501.30 L216.66,500.83 L218.27,500.35 L219.88,499.88 L221.50,499.40 L223.11,498.92 L224.73,498.44 L226.34,497.96 L227.95,497.47 L229.57,496.99 L231.18,496.50 L232.80,496.01 L234.41,495.51 L236.02,495.02 L237.64,494.52 L239.25,494.03 L240.87,493.53 L242.48,493.03 L244.09,492.52 L245.71,492.02 L247.32,491.51 L248.94,491.00 L250.55,490.49 L252.16,489.98 L253.78,489.47 L255.39,488.95 L257.01,488.44 L258.62,487.92 L260.23,487.40 L261.85,486.87 L263.46,486.35 L265.08,485.82 L266.69,485.29 L268.30,484.76 L269.92,484.23 L271.53,483.70 L273.15,483.16 L274.76,482.63 L276.37,482.09 L277.99,481.55 L279.60,481.00 L281.22,480.46 L282.83,479.91 L284.44,479.37 L286.06,478.82 L287.67,478.26 L289.29,477.71 L290.90,477.16 L292.52,476.60 L294.13,476.04 L295.74,475.48 L297.36,474.92 L298.97,474.35 L300.59,473.79 L302.20,473.22 L303.81,472.65 L305.43,472.08 L307.04,471.50 L308.66,470.93 L310.27,470.35 L311.88,469.77 L313.50,469.19 L315.11,468.61 L316.73,468.03 L318.34,467.44 L319.95,466.85 L321.57,466.26 L323.18,465.67 L324.80,465.08 L326.41,464.48 L328.02,463.89 L329.64,463.29 L331.25,462.69 L332.87,462.08 L334.48,461.48 L336.09,460.88 L337.71,460.27 L339.32,459.66 L340.94,459.05 L342.55,458.43 L344.16,457.82 L345.78,457.20 L347.39,456.58 L349.01,455.96 L350.62,455.34 L352.23,454.72 L353.85,454.09 L355.46,453.46 L357.08,452.84 L358.69,452.20 L360.30,451.57 L361.92,450.94 L363.53,450.30 L365.15,449.66 L366.76,449.02 L368.37,448.38 L369.99,447.74 L371.60,447.09 L373.22,446.44 L374.83,445.79 L376.44,445.14 L378.06,444.49 L379.67,443.84 L381.29,443.18 L382.90,442.52 L384.51,441.86 L386.13,441.20 L387.74,440.54 L389.36,439.87 L390.97,439.20 L392.58,438.53 L394.20,437.86 L395.81,437.19 L397.43,436.52 L399.04,435.84 L400.65,435.16 L402.27,434.48 L403.88,433.80 L405.50,433.12 L407.11,432.43 L408.73,431.75 L410.34,431.06 L411.95,430.37 L413.57,429.67 L415.18,428.98 L416.80,428.28 L418.41,427.59 L420.02,426.89 L421.64,426.18 L423.25,425.48 L424.87,424.78 L426.48,424.07 L428.09,423.36 L429.71,422.65 L431.32,421.94 L432.94,421.22 L434.55,420.51 L436.16,419.79 L437.78,419.07 L439.39,418.35 L441.01,417.63 L442.62,416.90 L444.23,416.17 L445.85,415.44 L447.46,414.71 L449.08,413.98 L450.69,413.25 L452.30,412.51 L453.92,411.77 L455.53,411.04 L457.15,410.29 L458.76,409.55 L460.37,408.81 L461.99,408.06 L463.60,407.31 L465.22,406.56 L466.83,405.81 L468.44,405.05 L470.06,404.30 L471.67,403.54 L473.29,402.78 L474.90,402.02 L476.51,401.26 L478.13,400.49 L479.74,399.73 L481.36,398.96 L482.97,398.19 L484.58,397.42 L486.20,396.64 L487.81,395.87 L489.43,395.09 L491.04,394.31 L492.65,393.53 L494.27,392.75 L495.88,391.96 L497.50,391.18 L499.11,390.39 L500.72,389.60 L502.34,388.81 L503.95,388.01 L505.57,387.22 L507.18,386.42 L508.79,385.62 L510.41,384.82 L512.02,384.02 L513.64,383.21 L515.25,382.41 L516.86,381.60 L518.48,380.79 L520.09,379.98 L521.71,379.16 L523.32,378.35 L524.94,377.53 L526.55,376.71 L528.16,375.89 L529.78,375.07 L531.39,374.25 L533.01,373.42 L534.62,372.59 L536.23,371.76 L537.85,370.93 L539.46,370.10 L541.08,369.26 L542.69,368.43 L544.30,367.59 L545.92,366.75 L547.53,365.90 L549.15,365.06 L550.76,364.21 L552.37,363.37 L553.99,362.52 L555.60,361.67 L557.22,360.81 L558.83,359.96 L560.44,359.10 L562.06,358.24 L563.67,357.38 L565.29,356.52 L566.90,355.66 L568.51,354.79 L570.13,353.92 L571.74,353.05 L573.36,352.18 L574.97,351.31 L576.58,350.43 L578.20,349.56 L579.81,348.68 L581.43,347.80 L583.04,346.92 L584.65,346.03 L586.27,345.15 L587.88,344.26 L589.50,343.37 L591.11,342.48 L592.72,341.59 L594.34,340.69 L595.95,339.79 L597.57,338.90 L599.18,338.00 L600.79,337.09 L602.41,336.19 L604.02,335.28 L605.64,334.38 L607.25,333.47 L608.86,332.56 L610.48,331.64 L612.09,330.73 L613.71,329.81 L615.32,328.90 L616.93,327.98 L618.55,327.05 L620.16,326.13 L621.78,325.20 L623.39,324.28 L625.00,323.35 L626.62,322.42 L628.23,321.49 L629.85,320.55 L631.46,319.61 L633.07,318.68 L634.69,317.74 L636.30,316.80 L637.92,315.85 L639.53,314.91 L641.15,313.96 L642.76,313.01 L644.37,312.06 L645.99,311.11 L647.60,310.15 L649.22,309.20 L650.83,308.24 L652.44,307.28 L654.06,306.32 L655.67,305.35 L657.29,304.39 L658.90,303.42 L660.51,302.45 L662.13,301.48 L663.74,300.51 L665.36,299.54 L666.97,298.56 L668.58,297.58 L670.20,296.60 L671.81,295.62 L673.43,294.64 L675.04,293.65 L676.65,292.67 L678.27,291.68 L679.88,290.69 L681.50,289.70 L683.11,288.70 L684.72,287.71 L686.34,286.71 L687.95,285.71 L689.57,284.71 L691.18,283.71 L692.79,282.70 L694.41,281.69 L696.02,280.69 L697.64,279.67 L699.25,278.66 L700.86,277.65 L702.48,276.63 L704.09,275.62 L705.71,274.60 L707.32,273.58 L708.93,272.55 L710.55,271.53 L712.16,270.50 L713.78,269.47 L715.39,268.44 L717.00,267.41 L718.62,266.38 L720.23,265.34 L721.85,264.30 L723.46,263.27 L725.07,262.22 L726.69,261.18 L728.30,260.14 L729.92,259.09 L731.53,258.04 L733.14,256.99 L734.76,255.94 L736.37,254.89 L737.99,253.83 L739.60,252.77 L741.21,251.72 L742.83,250.65 L744.44,249.59 L746.06,248.53 L747.67,247.46 L749.28,246.39 L750.90,245.32 L752.51,244.25 L754.13,243.18 L755.74,242.10 L757.36,241.03 L758.97,239.95 L760.58,238.87 L762.20,237.78 L763.81,236.70 L765.43,235.61 L767.04,234.53 L768.65,233.44 L770.27,232.34 L771.88,231.25 L773.50,230.16 L775.11,229.06 L776.72,227.96 L778.34,226.86 L779.95,225.76 L781.57,224.65 L783.18,223.55 L784.79,222.44 L786.41,221.33 L788.02,220.22 L789.64,219.11 L791.25,217.99 L792.86,216.87 L794.48,215.76 L796.09,214.64 L797.71,213.51 L799.32,212.39 L800.93,211.26 L802.55,210.14 L804.16,209.01 L805.78,207.87 L807.39,206.74 L809.00,205.61 L810.62,204.47 L812.23,203.33 L813.85,202.19 L815.46,201.05 L817.07,199.91 L818.69,198.76 L820.30,197.61 L821.92,196.46 L823.53,195.31 L825.14,194.16 L826.76,193.00 L828.37,191.85 L829.99,190.69 L831.60,189.53 L833.21,188.37 L834.83,187.20 L836.44,186.04 L838.06,184.87 L839.67,183.70 L841.28,182.53 L842.90,181.36 L844.51,180.18 L846.13,179.01 L847.74,177.83 L849.35,176.65 L850.97,175.47 L852.58,174.28 L854.20,173.10 L855.81,171.91 L857.42,170.72 L859.04,169.53 L860.65,168.34 L862.27,167.14 L863.88,165.95 L865.49,164.75 L867.11,163.55 L868.72,162.35 L870.34,161.15 L871.95,159.94 L873.57,158.73 L875.18,157.52 L876.79,156.31 L878.41,155.10 L880.02,153.89 L881.64,152.67 L883.25,151.45 L884.86,150.23 L886.48,149.01 L888.09,147.79 L889.71,146.56 L891.32,145.34 L892.93,144.11 L894.55,142.88 L896.16,141.64 L897.78,140.41 L899.39,139.17 L901.00,137.94 L902.62,136.70 L904.23,135.46 L905.85,134.21 L907.46,132.97 L909.07,131.72 L910.69,130.47 L912.30,129.22 L913.92,127.97 L915.53,126.72 L917.14,125.46 L918.76,124.20 L920.37,122.94 L921.99,121.68 L923.60,120.42" fill="none" stroke="#0000ff" stroke-width="1.4" stroke-linejoin="round" transform="translate(0.4,0.6)"/>
<path d="M118.20,526.33 L119.81,525.51 L121.43,524.70 L123.04,523.89 L124.66,523.07 L126.27,522.26 L127.88,521.45 L129.50,520.63 L131.11,519.82 L132.73,519.01 L134.34,518.19 L135.95,517.38 L137.57,516.57 L139.18,515.75 L140.80,514.94 L142.41,514.13 L144.02,513.31 L145.64,512.50 L147.25,511.68 L148.87,510.87 L150.48,510.06 L152.09,509.24 L153.71,508.43 L155.32,507.62 L156.94,506.80 L158.55,505.99 L160.16,505.18 L161.78,504.36 L163.39,503.55 L165.01,502.74 L166.62,501.92 L168.23,501.11 L169.85,500.30 L171.46,499.48 L173.08,498.67 L174.69,497.86 L176.31,497.04 L177.92,496.23 L179.53,495.42 L181.15,494.60 L182.76,493.79 L184.38,492.98 L185.99,492.16 L187.60,491.35 L189.22,490.54 L190.83,489.72 L192.45,488.91 L194.06,488.09 L195.67,487.28 L197.29,486.47 L198.90,485.65 L200.52,484.84 L202.13,484.03 L203.74,483.21 L205.36,482.40 L206.97,481.59 L208.59,480.77 L210.20,479.96 L211.81,479.15 L213.43,478.33 L215.04,477.52 L216.66,476.71 L218.27,475.89 L219.88,475.08 L221.50,474.27 L223.11,473.45 L224.73,472.64 L226.34,471.83 L227.95,471.01 L229.57,470.20 L231.18,469.39 L232.80,468.57 L234.41,467.76 L236.02,466.95 L237.64,466.13 L239.25,465.32 L240.87,464.51 L242.48,463.69 L244.09,462.88 L245.71,462.06 L247.32,461.25 L248.94,460.44 L250.55,459.62 L252.16,458.81 L253.78,458.00 L255.39,457.18 L257.01,456.37 L258.62,455.56 L260.23,454.74 L261.85,453.93 L263.46,453.12 L265.08,452.30 L266.69,451.49 L268.30,450.68 L269.92,449.86 L271.53,449.05 L273.15,448.24 L274.76,447.42 L276.37,446.61 L277.99,445.80 L279.60,444.98 L281.22,444.17 L282.83,443.36 L284.44,442.54 L286.06,441.73 L287.67,440.92 L289.29,440.10 L290.90,439.29 L292.52,438.47 L294.13,437.66 L295.74,436.85 L297.36,436.03 L298.97,435.22 L300.59,434.41 L302.20,433.59 L303.81,432.78 L305.43,431.97 L307.04,431.15 L308.66,430.34 L310.27,429.53 L311.88,428.71 L313.50,427.90 L315.11,427.09 L316.73,426.27 L318.34,425.46 L319.95,424.65 L321.57,423.83 L323.18,423.02 L324.80,422.21 L326.41,421.39 L328.02,420.58 L329.64,419.77 L331.25,418.95 L332.87,418.14 L334.48,417.33 L336.09,416.51 L337.71,415.70 L339.32,414.89 L340.94,414.07 L342.55,413.26 L344.16,412.44 L345.78,411.63 L347.39,410.82 L349.01,410.00 L350.62,409.19 L352.23,408.38 L353.85,407.56 L355.46,406.75 L357.08,405.94 L358.69,405.12 L360.30,404.31 L361.92,403.50 L363.53,402.68 L365.15,401.87 L366.76,401.06 L368.37,400.24 L369.99,399.43 L371.60,398.62 L373.22,397.80 L374.83,396.99 L376.44,396.18 L378.06,395.36 L379.67,394.55 L381.29,393.74 L382.90,392.92 L384.51,392.11 L386.13,391.30 L387.74,390.48 L389.36,389.67 L390.97,388.85 L392.58,388.04 L394.20,387.23 L395.81,386.41 L397.43,385.60 L399.04,384.79 L400.65,383.97 L402.27,383.16 L403.88,382.35 L405.50,381.53 L407.11,380.72 L408.73,379.91 L410.34,379.09 L411.95,378.28 L413.57,377.47 L415.18,376.65 L416.80,375.84 L418.41,375.03 L420.02,374.21 L421.64,373.40 L423.25,372.59 L424.87,371.77 L426.48,370.96 L428.09,370.15 L429.71,369.33 L431.32,368.52 L432.94,367.71 L434.55,366.89 L436.16,366.08 L437.78,365.26 L439.39,364.45 L441.01,363.64 L442.62,362.82 L444.23,362.01 L445.85,361.20 L447.46,360.38 L449.08,359.57 L450.69,358.76 L452.30,357.94 L453.92,357.13 L455.53,356.32 L457.15,355.50 L458.76,354.69 L460.37,353.88 L461.99,353.06 L463.60,352.25 L465.22,351.44 L466.83,350.62 L468.44,349.81 L470.06,349.00 L471.67,348.18 L473.29,347.37 L474.90,346.56 L476.51,345.74 L478.13,344.93 L479.74,344.12 L481.36,343.30 L482.97,342.49 L484.58,341.68 L486.20,340.86 L487.81,340.05 L489.43,339.23 L491.04,338.42 L492.65,337.61 L494.27,336.79 L495.88,335.98 L497.50,335.17 L499.11,334.35 L500.72,333.54 L502.34,332.73 L503.95,331.91 L505.57,331.10 L507.18,330.29 L508.79,329.47 L510.41,328.66 L512.02,327.85 L513.64,327.03 L515.25,326.22 L516.86,325.41 L518.48,324.59 L520.09,323.78 L521.71,322.97 L523.32,322.15 L524.94,321.34 L526.55,320.53 L528.16,319.71 L529.78,318.90 L531.39,318.09 L533.01,317.27 L534.62,316.46 L536.23,315.64 L537.85,314.83 L539.46,314.02 L541.08,313.20 L542.69,312.39 L544.30,311.58 L545.92,310.76 L547.53,309.95 L549.15,309.14 L550.76,308.32 L552.37,307.51 L553.99,306.70 L555.60,305.88 L557.22,305.07 L558.83,304.26 L560.44,303.44 L562.06,302.63 L563.67,301.82 L565.29,301.00 L566.90,300.19 L568.51,299.38 L570.13,298.56 L571.74,297.75 L573.36,296.94 L574.97,296.12 L576.58,295.31 L578.20,294.50 L579.81,293.68 L581.43,292.87 L583.04,292.06 L584.65,291.24 L586.27,290.43 L587.88,289.61 L589.50,288.80 L591.11,287.99 L592.72,287.17 L594.34,286.36 L595.95,285.55 L597.57,284.73 L599.18,283.92 L600.79,283.11 L602.41,282.29 L604.02,281.48 L605.64,280.67 L607.25,279.85 L608.86,279.04 L610.48,278.23 L612.09,277.41 L613.71,276.60 L615.32,275.79 L616.93,274.97 L618.55,274.16 L620.16,273.35 L621.78,272.53 L623.39,271.72 L625.00,270.91 L626.62,270.09 L628.23,269.28 L629.85,268.47 L631.46,267.65 L633.07,266.84 L634.69,266.02 L636.30,265.21 L637.92,264.40 L639.53,263.58 L641.15,262.77 L642.76,261.96 L644.37,261.14 L645.99,260.33 L647.60,259.52 L649.22,258.70 L650.83,257.89 L652.44,257.08 L654.06,256.26 L655.67,255.45 L657.29,254.64 L658.90,253.82 L660.51,253.01 L662.13,252.20 L663.74,251.38 L665.36,250.57 L666.97,249.76 L668.58,248.94 L670.20,248.13 L671.81,247.32 L673.43,246.50 L675.04,245.69 L676.65,244.88 L678.27,244.06 L679.88,243.25 L681.50,242.43 L683.11,241.62 L684.72,240.81 L686.34,239.99 L687.95,239.18 L689.57,238.37 L691.18,237.55 L692.79,236.74 L694.41,235.93 L696.02,235.11 L697.64,234.30 L699.25,233.49 L700.86,232.67 L702.48,231.86 L704.09,231.05 L705.71,230.23 L707.32,229.42 L708.93,228.61 L710.55,227.79 L712.16,226.98 L713.78,226.17 L715.39,225.35 L717.00,224.54 L718.62,223.73 L720.23,222.91 L721.85,222.10 L723.46,221.29 L725.07,220.47 L726.69,219.66 L728.30,218.85 L729.92,218.03 L731.53,217.22 L733.14,216.40 L734.76,215.59 L736.37,214.78 L737.99,213.96 L739.60,213.15 L741.21,212.34 L742.83,211.52 L744.44,210.71 L746.06,209.90 L747.67,209.08 L749.28,208.27 L750.90,207.46 L752.51,206.64 L754.13,205.83 L755.74,205.02 L757.36,204.20 L758.97,203.39 L760.58,202.58 L762.20,201.76 L763.81,200.95 L765.43,200.14 L767.04,199.32 L768.65,198.51 L770.27,197.70 L771.88,196.88 L773.50,196.07 L775.11,195.26 L776.72,194.44 L778.34,193.63 L779.95,192.81 L781.57,192.00 L783.18,191.19 L784.79,190.37 L786.41,189.56 L788.02,188.75 L789.64,187.93 L791.25,187.12 L792.86,186.31 L794.48,185.49 L796.09,184.68 L797.71,183.87 L799.32,183.05 L800.93,182.24 L802.55,181.43 L804.16,180.61 L805.78,179.80 L807.39,178.99 L809.00,178.17 L810.62,177.36 L812.23,176.55 L813.85,175.73 L815.46,174.92 L817.07,174.11 L818.69,173.29 L820.30,172.48 L821.92,171.67 L823.53,170.85 L825.14,170.04 L826.76,169.23 L828.37,168.41 L829.99,167.60 L831.60,166.78 L833.21,165.97 L834.83,165.16 L836.44,164.34 L838.06,163.53 L839.67,162.72 L841.28,161.90 L842.90,161.09 L844.51,160.28 L846.13,159.46 L847.74,158.65 L849.35,157.84 L850.97,157.02 L852.58,156.21 L854.20,155.40 L855.81,154.58 L857.42,153.77 L859.04,152.96 L860.65,152.14 L862.27,151.33 L863.88,150.52 L865.49,149.70 L867.11,148.89 L868.72,148.08 L870.34,147.26 L871.95,146.45 L873.57,145.64 L875.18,144.82 L876.79,144.01 L878.41,143.19 L880.02,142.38 L881.64,141.57 L883.25,140.75 L884.86,139.94 L886.48,139.13 L888.09,138.31 L889.71,137.50 L891.32,136.69 L892.93,135.87 L894.55,135.06 L896.16,134.25 L897.78,133.43 L899.39,132.62 L901.00,131.81 L902.62,130.99 L904.23,130.18 L905.85,129.37 L907.46,128.55 L909.07,127.74 L910.69,126.93 L912.30,126.11 L913.92,125.30 L915.53,124.49 L917.14,123.67 L918.76,122.86 L920.37,122.05 L921.99,121.23 L923.60,120.42" fill="none" stroke="#ff0000" stroke-width="1.4" stroke-linejoin="round" transform="translate(0.4,0.6)"/>
<rect x="114.10" y="521.73" width="8.6" height="8.6" fill="#000"/>
<rect x="191.01" y="653.51" width="8.6" height="8.6" fill="#000"/>
<rect x="392.36" y="645.41" width="8.6" height="8.6" fill="#000"/>
<rect x="641.24" y="306.89" width="8.6" height="8.6" fill="#000"/>
<rect x="842.59" y="385.49" width="8.6" height="8.6" fill="#000"/>
<rect x="919.50" y="115.82" width="8.6" height="8.6" fill="#000"/>
<rect x="73" y="77" width="1" height="694" fill="#c0c0c0"/>
<rect x="78" y="775" width="888" height="1" fill="#c0c0c0"/>
<line x1="70.5" y1="764.34" x2="73" y2="764.34" stroke="#c0c0c0" stroke-width="1"/>
<line x1="70.5" y1="731.14" x2="73" y2="731.14" stroke="#c0c0c0" stroke-width="1"/>
<line x1="70.5" y1="697.94" x2="73" y2="697.94" stroke="#c0c0c0" stroke-width="1"/>
<line x1="70.5" y1="664.75" x2="73" y2="664.75" stroke="#c0c0c0" stroke-width="1"/>
<line x1="70.5" y1="631.56" x2="73" y2="631.56" stroke="#c0c0c0" stroke-width="1"/>
<line x1="70.5" y1="598.36" x2="73" y2="598.36" stroke="#c0c0c0" stroke-width="1"/>
<line x1="70.5" y1="565.16" x2="73" y2="565.16" stroke="#c0c0c0" stroke-width="1"/>
<line x1="70.5" y1="531.97" x2="73" y2="531.97" stroke="#c0c0c0" stroke-width="1"/>
<line x1="70.5" y1="498.77" x2="73" y2="498.77" stroke="#c0c0c0" stroke-width="1"/>
<line x1="70.5" y1="465.58" x2="73" y2="465.58" stroke="#c0c0c0" stroke-width="1"/>
<line x1="70.5" y1="432.38" x2="73" y2="432.38" stroke="#c0c0c0" stroke-width="1"/>
<line x1="70.5" y1="399.19" x2="73" y2="399.19" stroke="#c0c0c0" stroke-width="1"/>
<line x1="70.5" y1="366.00" x2="73" y2="366.00" stroke="#c0c0c0" stroke-width="1"/>
<line x1="70.5" y1="332.80" x2="73" y2="332.80" stroke="#c0c0c0" stroke-width="1"/>
<line x1="70.5" y1="299.61" x2="73" y2="299.61" stroke="#c0c0c0" stroke-width="1"/>
<line x1="70.5" y1="266.41" x2="73" y2="266.41" stroke="#c0c0c0" stroke-width="1"/>
<line x1="70.5" y1="233.22" x2="73" y2="233.22" stroke="#c0c0c0" stroke-width="1"/>
<line x1="70.5" y1="200.02" x2="73" y2="200.02" stroke="#c0c0c0" stroke-width="1"/>
<line x1="70.5" y1="166.83" x2="73" y2="166.83" stroke="#c0c0c0" stroke-width="1"/>
<line x1="70.5" y1="133.63" x2="73" y2="133.63" stroke="#c0c0c0" stroke-width="1"/>
<line x1="70.5" y1="100.44" x2="73" y2="100.44" stroke="#c0c0c0" stroke-width="1"/>
<line x1="78.50" y1="776" x2="78.50" y2="778.5" stroke="#c0c0c0" stroke-width="1"/>
<line x1="118.20" y1="776" x2="118.20" y2="778.5" stroke="#c0c0c0" stroke-width="1"/>
<line x1="158.47" y1="776" x2="158.47" y2="778.5" stroke="#c0c0c0" stroke-width="1"/>
<line x1="198.74" y1="776" x2="198.74" y2="778.5" stroke="#c0c0c0" stroke-width="1"/>
<line x1="239.01" y1="776" x2="239.01" y2="778.5" stroke="#c0c0c0" stroke-width="1"/>
<line x1="279.28" y1="776" x2="279.28" y2="778.5" stroke="#c0c0c0" stroke-width="1"/>
<line x1="319.55" y1="776" x2="319.55" y2="778.5" stroke="#c0c0c0" stroke-width="1"/>
<line x1="359.82" y1="776" x2="359.82" y2="778.5" stroke="#c0c0c0" stroke-width="1"/>
<line x1="400.09" y1="776" x2="400.09" y2="778.5" stroke="#c0c0c0" stroke-width="1"/>
<line x1="440.36" y1="776" x2="440.36" y2="778.5" stroke="#c0c0c0" stroke-width="1"/>
<line x1="480.63" y1="776" x2="480.63" y2="778.5" stroke="#c0c0c0" stroke-width="1"/>
<line x1="520.90" y1="776" x2="520.90" y2="778.5" stroke="#c0c0c0" stroke-width="1"/>
<line x1="561.17" y1="776" x2="561.17" y2="778.5" stroke="#c0c0c0" stroke-width="1"/>
<line x1="601.44" y1="776" x2="601.44" y2="778.5" stroke="#c0c0c0" stroke-width="1"/>
<line x1="641.71" y1="776" x2="641.71" y2="778.5" stroke="#c0c0c0" stroke-width="1"/>
<line x1="681.98" y1="776" x2="681.98" y2="778.5" stroke="#c0c0c0" stroke-width="1"/>
<line x1="722.25" y1="776" x2="722.25" y2="778.5" stroke="#c0c0c0" stroke-width="1"/>
<line x1="762.52" y1="776" x2="762.52" y2="778.5" stroke="#c0c0c0" stroke-width="1"/>
<line x1="802.79" y1="776" x2="802.79" y2="778.5" stroke="#c0c0c0" stroke-width="1"/>
<line x1="843.06" y1="776" x2="843.06" y2="778.5" stroke="#c0c0c0" stroke-width="1"/>
<line x1="883.33" y1="776" x2="883.33" y2="778.5" stroke="#c0c0c0" stroke-width="1"/>
<line x1="923.60" y1="776" x2="923.60" y2="778.5" stroke="#c0c0c0" stroke-width="1"/>
<line x1="965.00" y1="776" x2="965.00" y2="778.5" stroke="#c0c0c0" stroke-width="1"/>
<rect x="78" y="77" width="888" height="2" fill="#7a7a7a"/>
<rect x="78" y="77" width="1" height="694" fill="#7a7a7a"/>
<rect x="964" y="77" width="2" height="694" fill="#7a7a7a"/>
<rect x="78" y="770" width="888" height="1" fill="#7a7a7a"/>
</svg>
<div class="yl" style="top:757.6px">-6.5</div>
<div class="yl" style="top:724.4px">-6.0</div>
<div class="yl" style="top:691.2px">-5.5</div>
<div class="yl" style="top:658.0px">-5.0</div>
<div class="yl" style="top:624.9px">-4.5</div>
<div class="yl" style="top:591.7px">-4.0</div>
<div class="yl" style="top:558.5px">-3.5</div>
<div class="yl" style="top:525.3px">-3.0</div>
<div class="yl" style="top:492.1px">-2.5</div>
<div class="yl" style="top:458.9px">-2.0</div>
<div class="yl" style="top:425.7px">-1.5</div>
<div class="yl" style="top:392.5px">-1.0</div>
<div class="yl" style="top:359.3px">-0.5</div>
<div class="yl" style="top:326.1px">0.0</div>
<div class="yl" style="top:292.9px">0.5</div>
<div class="yl" style="top:259.7px">1.0</div>
<div class="yl" style="top:226.5px">1.5</div>
<div class="yl" style="top:193.3px">2.0</div>
<div class="yl" style="top:160.1px">2.5</div>
<div class="yl" style="top:126.9px">3.0</div>
<div class="yl" style="top:93.7px">3.5</div>
<div class="xl" style="left:47.9px">-1.1</div>
<div class="xl" style="left:87.7px">-1.0</div>
<div class="xl" style="left:128.0px">-0.9</div>
<div class="xl" style="left:168.2px">-0.8</div>
<div class="xl" style="left:208.5px">-0.7</div>
<div class="xl" style="left:248.8px">-0.6</div>
<div class="xl" style="left:289.0px">-0.5</div>
<div class="xl" style="left:329.3px">-0.4</div>
<div class="xl" style="left:369.6px">-0.3</div>
<div class="xl" style="left:409.9px">-0.2</div>
<div class="xl" style="left:450.1px">-0.1</div>
<div class="xl" style="left:490.4px">0.0</div>
<div class="xl" style="left:530.7px">0.1</div>
<div class="xl" style="left:570.9px">0.2</div>
<div class="xl" style="left:611.2px">0.3</div>
<div class="xl" style="left:651.5px">0.4</div>
<div class="xl" style="left:691.8px">0.5</div>
<div class="xl" style="left:732.0px">0.6</div>
<div class="xl" style="left:772.3px">0.7</div>
<div class="xl" style="left:812.6px">0.8</div>
<div class="xl" style="left:852.8px">0.9</div>
<div class="xl" style="left:893.1px">1.0</div>
<div class="xl" style="left:934.4px">1.1</div>
<div id="xlab">X</div>
<div id="ylab">Y</div>
<div id="legend"></div>
<svg width="980" height="861" viewBox="0 0 980 861">
 <rect x="236.5" y="842.5" width="8.5" height="8.5" fill="#000"/>
 <line x1="338" y1="847" x2="357.5" y2="847" stroke="#ff0000" stroke-width="1.5"/>
 <line x1="421" y1="847" x2="441" y2="847" stroke="#0000ff" stroke-width="1.5"/>
 <line x1="503" y1="847" x2="522.5" y2="847" stroke="#00ff00" stroke-width="1.5"/>
 <line x1="586" y1="847" x2="606" y2="847" stroke="#ffc800" stroke-width="1.5"/>
 <line x1="668" y1="847" x2="687.5" y2="847" stroke="#ff00ff" stroke-width="1.5"/>
</svg>
<div class="lt" style="left:252.0px;transform:scaleX(0.9167)">Data Points</div>
<div class="lt" style="left:360.5px;transform:scaleX(0.9537)">Order 1</div>
<div class="lt" style="left:443.3px;transform:scaleX(0.9630)">Order 2</div>
<div class="lt" style="left:525.7px;transform:scaleX(0.9537)">Order 3</div>
<div class="lt" style="left:608.1px;transform:scaleX(0.9537)">Order 4</div>
<div class="lt" style="left:690.8px;transform:scaleX(0.9537)">Order 5</div>
</div>
</body></html>
